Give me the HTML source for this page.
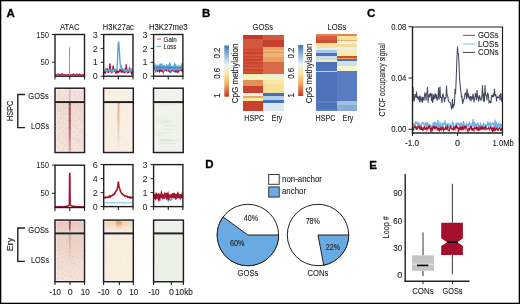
<!DOCTYPE html>
<html><head><meta charset="utf-8"><style>
html,body{margin:0;padding:0;background:#fff;}
svg{display:block;will-change:transform;}
text{font-family:"Liberation Sans", sans-serif;stroke:#231f20;stroke-width:0.12px;}
</style></head><body>
<svg width="520" height="304" viewBox="0 0 520 304">
<rect x="0.65" y="0.65" width="518.7" height="302.7" fill="#fff" stroke="#000" stroke-width="1.3"/>
<text x="6.4" y="16.8" font-size="11.5" font-weight="bold" fill="#000" style="stroke:#000;stroke-width:0.3px">A</text>
<text x="202.0" y="16.8" font-size="11.5" font-weight="bold" fill="#000" style="stroke:#000;stroke-width:0.3px">B</text>
<text x="366.9" y="17.0" font-size="11.5" font-weight="bold" fill="#000" style="stroke:#000;stroke-width:0.3px">C</text>
<text x="205.2" y="167.8" font-size="11.5" font-weight="bold" fill="#000" style="stroke:#000;stroke-width:0.3px">D</text>
<text x="369.3" y="168.7" font-size="11.5" font-weight="bold" fill="#000" style="stroke:#000;stroke-width:0.3px">E</text>
<text x="69.75" y="29.8" font-size="8.6" text-anchor="middle" textLength="19.4" lengthAdjust="spacingAndGlyphs" fill="#231f20">ATAC</text>
<text x="118.35" y="29.8" font-size="8.6" text-anchor="middle" textLength="31.0" lengthAdjust="spacingAndGlyphs" fill="#231f20">H3K27ac</text>
<text x="168.25" y="29.8" font-size="8.6" text-anchor="middle" textLength="38.6" lengthAdjust="spacingAndGlyphs" fill="#231f20">H3K27me3</text>
<clipPath id="c11"><rect x="55.0" y="34.5" width="29.5" height="41.7"/></clipPath>
<path d="M55.00,74.72 L55.49,75.07 L55.98,75.03 L56.48,74.78 L56.97,74.89 L57.46,74.77 L57.95,74.44 L58.44,74.05 L58.93,74.02 L59.42,74.49 L59.92,75.05 L60.41,74.86 L60.90,74.92 L61.39,74.04 L61.88,73.61 L62.38,74.04 L62.87,74.48 L63.36,75.09 L63.85,75.10 L64.34,74.67 L64.83,74.66 L65.33,74.92 L65.82,75.12 L66.31,74.84 L66.80,74.76 L67.29,74.86 L67.78,74.66 L68.28,74.76 L68.77,74.87 L69.26,74.90 L69.75,74.77 L70.24,74.77 L70.73,74.76 L71.22,74.88 L71.72,74.79 L72.21,74.63 L72.70,74.80 L73.19,74.10 L73.68,74.04 L74.17,74.35 L74.67,75.08 L75.16,75.07 L75.65,74.64 L76.14,74.36 L76.63,73.97 L77.12,74.12 L77.62,74.84 L78.11,74.81 L78.60,74.89 L79.09,74.34 L79.58,73.91 L80.08,74.49 L80.57,75.00 L81.06,75.07 L81.55,74.90 L82.04,74.94 L82.53,74.67 L83.03,74.77 L83.52,75.05 L84.01,74.86 L84.50,74.74" stroke="#a8112e" stroke-width="1.1" fill="none" clip-path="url(#c11)"/>
<path d="M55.00,75.87 L55.50,75.87 L56.00,75.33 L56.50,75.35 L57.00,75.80 L57.50,75.74 L58.00,75.70 L58.50,75.48 L59.00,75.66 L59.50,75.66 L60.00,75.65 L60.50,75.40 L61.00,75.56 L61.50,75.54 L62.00,75.73 L62.50,75.90 L63.00,75.87 L63.50,75.63 L64.00,75.57 L64.50,75.46 L65.00,75.32 L65.50,75.32 L66.00,75.58 L66.50,75.49 L67.00,75.53 L67.50,75.84 L68.00,75.62 L68.50,75.64 L69.00,75.44 L69.45,75.20 L69.50,47.40 L69.55,75.20 L70.50,75.38 L71.00,75.61 L71.50,75.90 L72.00,75.70 L72.50,75.41 L73.00,75.84 L73.50,75.78 L74.00,75.74 L74.50,75.84 L75.00,75.76 L75.50,75.77 L76.00,75.51 L76.50,75.89 L77.00,75.88 L77.50,75.40 L78.00,75.75 L78.50,75.73 L79.00,75.58 L79.50,75.62 L80.00,75.59 L80.50,75.85 L81.00,75.60 L81.50,75.80 L82.00,75.51 L82.50,75.83 L83.00,75.84 L83.50,75.58 L84.00,75.64 L84.50,75.85" stroke="#62aae4" stroke-width="1.0" fill="none" clip-path="url(#c11)"/>
<rect x="55.0" y="34.5" width="29.5" height="41.7" fill="none" stroke="#231f20" stroke-width="1.4"/>
<line x1="52.0" y1="34.5" x2="55.0" y2="34.5" stroke="#231f20" stroke-width="1"/>
<text x="49.0" y="37.6" font-size="9" text-anchor="end" textLength="12.8" lengthAdjust="spacingAndGlyphs" fill="#231f20" style="stroke:none">150</text>
<line x1="52.0" y1="62.2" x2="55.0" y2="62.2" stroke="#231f20" stroke-width="1"/>
<text x="49.0" y="65.3" font-size="9" text-anchor="end" textLength="8.6" lengthAdjust="spacingAndGlyphs" fill="#231f20" style="stroke:none">50</text>
<line x1="55.0" y1="76.2" x2="55.0" y2="79.60000000000001" stroke="#231f20" stroke-width="1.1"/>
<line x1="69.75" y1="76.2" x2="69.75" y2="79.60000000000001" stroke="#231f20" stroke-width="1.1"/>
<line x1="84.5" y1="76.2" x2="84.5" y2="79.60000000000001" stroke="#231f20" stroke-width="1.1"/>
<clipPath id="c12"><rect x="103.7" y="34.5" width="29.299999999999997" height="41.7"/></clipPath>
<path d="M103.70,72.56 L104.03,71.45 L104.35,72.08 L104.68,71.24 L105.00,71.16 L105.33,73.17 L105.65,73.17 L105.98,69.22 L106.30,69.50 L106.63,69.33 L106.96,68.31 L107.28,71.42 L107.61,70.37 L107.93,71.70 L108.26,71.11 L108.58,72.87 L108.91,71.06 L109.23,69.55 L109.56,68.01 L109.89,63.49 L110.21,64.60 L110.54,70.77 L110.86,70.29 L111.19,71.26 L111.51,72.33 L111.84,73.30 L112.16,70.23 L112.49,71.06 L112.82,68.13 L113.14,65.45 L113.47,67.18 L113.79,68.89 L114.12,71.83 L114.44,70.52 L114.77,71.81 L115.09,70.04 L115.42,70.24 L115.75,73.07 L116.07,72.93 L116.40,72.64 L116.72,69.93 L117.05,71.84 L117.37,71.16 L117.70,72.33 L118.02,71.59 L118.35,72.03 L118.68,72.15 L119.00,71.31 L119.33,71.31 L119.65,70.15 L119.98,70.96 L120.30,70.06 L120.63,70.32 L120.95,69.84 L121.28,70.99 L121.61,72.83 L121.93,70.31 L122.26,69.93 L122.58,70.15 L122.91,71.36 L123.23,70.84 L123.56,72.66 L123.88,70.41 L124.21,71.35 L124.54,72.39 L124.86,73.19 L125.19,70.23 L125.51,68.90 L125.84,69.40 L126.16,64.31 L126.49,67.46 L126.81,71.49 L127.14,72.18 L127.47,70.63 L127.79,70.27 L128.12,73.26 L128.44,71.17 L128.77,72.93 L129.09,69.39 L129.42,69.52 L129.74,68.05 L130.07,69.12 L130.40,71.48 L130.72,69.80 L131.05,72.30 L131.37,73.14 L131.70,71.25 L132.02,73.31 L132.35,72.71 L132.67,71.95 L133.00,71.21" stroke="#a8112e" stroke-width="1.2" fill="none" clip-path="url(#c12)"/>
<path d="M103.70,70.80 L104.03,71.02 L104.35,70.54 L104.68,70.94 L105.00,71.09 L105.33,70.53 L105.65,69.66 L105.98,69.86 L106.30,69.92 L106.63,70.83 L106.96,70.30 L107.28,70.73 L107.61,70.91 L107.93,71.02 L108.26,70.84 L108.58,69.65 L108.91,69.81 L109.23,69.85 L109.56,69.86 L109.89,70.87 L110.21,70.68 L110.54,70.15 L110.86,69.98 L111.19,69.77 L111.51,69.73 L111.84,71.05 L112.16,70.19 L112.49,70.08 L112.82,70.35 L113.14,70.90 L113.47,70.41 L113.79,71.05 L114.12,69.64 L114.44,69.75 L114.77,70.27 L115.09,70.68 L115.42,69.65 L115.75,70.18 L116.07,69.61 L116.40,69.58 L116.72,69.88 L117.05,68.75 L117.37,63.97 L117.70,55.50 L118.02,46.91 L118.35,42.61 L118.68,41.54 L119.00,44.98 L119.33,49.92 L119.65,55.25 L119.98,61.37 L120.30,64.51 L120.63,66.40 L120.95,67.43 L121.28,66.84 L121.61,68.62 L121.93,68.70 L122.26,69.47 L122.58,69.12 L122.91,70.01 L123.23,70.12 L123.56,69.64 L123.88,70.47 L124.21,70.15 L124.54,69.62 L124.86,70.99 L125.19,71.07 L125.51,70.81 L125.84,69.92 L126.16,70.17 L126.49,70.80 L126.81,70.64 L127.14,70.90 L127.47,70.43 L127.79,71.12 L128.12,70.03 L128.44,69.70 L128.77,69.60 L129.09,69.97 L129.42,69.59 L129.74,71.17 L130.07,70.71 L130.40,69.58 L130.72,69.90 L131.05,70.51 L131.37,69.62 L131.70,70.16 L132.02,69.83 L132.35,70.71 L132.67,70.88 L133.00,70.46" stroke="#5aa5de" stroke-width="1.4" fill="none" clip-path="url(#c12)"/>
<rect x="103.7" y="34.5" width="29.299999999999997" height="41.7" fill="none" stroke="#231f20" stroke-width="1.4"/>
<line x1="100.7" y1="34.5" x2="103.7" y2="34.5" stroke="#231f20" stroke-width="1"/>
<text x="97.7" y="37.6" font-size="9" text-anchor="end" fill="#231f20" style="stroke:none">3</text>
<line x1="100.7" y1="48.4" x2="103.7" y2="48.4" stroke="#231f20" stroke-width="1"/>
<text x="97.7" y="51.5" font-size="9" text-anchor="end" fill="#231f20" style="stroke:none">2</text>
<line x1="100.7" y1="62.3" x2="103.7" y2="62.3" stroke="#231f20" stroke-width="1"/>
<text x="97.7" y="65.39999999999999" font-size="9" text-anchor="end" fill="#231f20" style="stroke:none">1</text>
<line x1="100.7" y1="76.2" x2="103.7" y2="76.2" stroke="#231f20" stroke-width="1"/>
<text x="97.7" y="79.3" font-size="9" text-anchor="end" fill="#231f20" style="stroke:none">0</text>
<line x1="103.7" y1="76.2" x2="103.7" y2="79.60000000000001" stroke="#231f20" stroke-width="1.1"/>
<line x1="118.35" y1="76.2" x2="118.35" y2="79.60000000000001" stroke="#231f20" stroke-width="1.1"/>
<line x1="133.0" y1="76.2" x2="133.0" y2="79.60000000000001" stroke="#231f20" stroke-width="1.1"/>
<clipPath id="c13"><rect x="153.6" y="34.5" width="29.30000000000001" height="41.7"/></clipPath>
<path d="M153.60,68.78 L153.97,68.05 L154.33,67.72 L154.70,66.82 L155.06,68.06 L155.43,66.95 L155.80,72.41 L156.16,69.74 L156.53,66.82 L156.90,68.62 L157.26,67.08 L157.63,71.89 L158.00,69.72 L158.36,71.08 L158.73,69.26 L159.09,69.08 L159.46,72.51 L159.83,71.26 L160.19,70.88 L160.56,66.98 L160.93,67.90 L161.29,71.61 L161.66,67.71 L162.02,71.74 L162.39,68.81 L162.76,71.81 L163.12,72.58 L163.49,67.26 L163.85,71.30 L164.22,71.27 L164.59,66.58 L164.95,67.25 L165.32,70.82 L165.69,66.71 L166.05,69.29 L166.42,68.44 L166.78,71.33 L167.15,66.83 L167.52,68.36 L167.88,66.67 L168.25,67.12 L168.62,70.76 L168.98,70.38 L169.35,71.57 L169.72,71.69 L170.08,72.19 L170.45,70.74 L170.81,68.90 L171.18,72.57 L171.55,68.44 L171.91,70.52 L172.28,70.69 L172.65,67.58 L173.01,69.65 L173.38,70.65 L173.74,69.64 L174.11,68.28 L174.48,72.24 L174.84,66.62 L175.21,72.45 L175.57,68.00 L175.94,67.42 L176.31,72.48 L176.67,67.77 L177.04,70.35 L177.41,69.05 L177.77,72.53 L178.14,72.30 L178.50,71.48 L178.87,66.74 L179.24,71.38 L179.60,67.96 L179.97,66.90 L180.34,66.82 L180.70,70.48 L181.07,70.42 L181.44,69.38 L181.80,67.84 L182.17,71.93 L182.53,68.01 L182.90,67.71" stroke="#a8112e" stroke-width="1.1" fill="none" clip-path="url(#c13)"/>
<path d="M153.60,66.56 L153.97,66.43 L154.33,67.93 L154.70,68.92 L155.06,70.08 L155.43,67.14 L155.80,67.99 L156.16,66.70 L156.53,68.42 L156.90,66.66 L157.26,68.87 L157.63,66.52 L158.00,66.84 L158.36,68.24 L158.73,67.69 L159.09,67.05 L159.46,69.23 L159.83,67.62 L160.19,66.50 L160.56,68.90 L160.93,66.51 L161.29,67.03 L161.66,66.33 L162.02,68.59 L162.39,69.67 L162.76,66.52 L163.12,66.50 L163.49,68.10 L163.85,69.67 L164.22,69.21 L164.59,67.26 L164.95,68.79 L165.32,65.85 L165.69,67.47 L166.05,69.19 L166.42,67.17 L166.78,68.48 L167.15,65.94 L167.52,66.04 L167.88,67.79 L168.25,67.22 L168.62,66.98 L168.98,66.50 L169.35,65.74 L169.72,69.96 L170.08,68.48 L170.45,67.41 L170.81,68.73 L171.18,67.46 L171.55,69.69 L171.91,66.17 L172.28,67.75 L172.65,69.56 L173.01,67.14 L173.38,68.69 L173.74,69.21 L174.11,67.93 L174.48,69.47 L174.84,69.15 L175.21,66.23 L175.57,66.98 L175.94,70.03 L176.31,66.62 L176.67,70.01 L177.04,68.60 L177.41,66.06 L177.77,67.33 L178.14,68.72 L178.50,68.41 L178.87,68.35 L179.24,69.52 L179.60,65.64 L179.97,69.84 L180.34,68.20 L180.70,66.76 L181.07,68.31 L181.44,65.72 L181.80,68.99 L182.17,65.73 L182.53,66.12 L182.90,67.10" stroke="#5aa5de" stroke-width="2.6" fill="none" clip-path="url(#c13)"/>
<path d="M153.60,67.81 L153.97,67.61 L154.33,67.72 L154.70,67.67 L155.06,67.73 L155.43,67.32 L155.80,67.98 L156.16,67.36 L156.53,68.40 L156.90,67.91 L157.26,67.86 L157.63,68.18 L158.00,67.18 L158.36,67.90 L158.73,67.10 L159.09,66.82 L159.46,67.99 L159.83,66.93 L160.19,67.07 L160.56,67.30 L160.93,68.37 L161.29,67.65 L161.66,67.37 L162.02,67.92 L162.39,68.04 L162.76,67.90 L163.12,67.99 L163.49,67.10 L163.85,67.84 L164.22,67.71 L164.59,67.34 L164.95,66.83 L165.32,67.93 L165.69,68.34 L166.05,66.79 L166.42,67.03 L166.78,67.10 L167.15,67.54 L167.52,68.02 L167.88,68.16 L168.25,67.91 L168.62,67.65 L168.98,68.31 L169.35,67.25 L169.72,67.20 L170.08,68.39 L170.45,67.01 L170.81,67.60 L171.18,66.88 L171.55,67.62 L171.91,67.09 L172.28,67.66 L172.65,67.39 L173.01,67.58 L173.38,68.38 L173.74,68.18 L174.11,68.03 L174.48,67.74 L174.84,67.80 L175.21,67.52 L175.57,67.32 L175.94,67.75 L176.31,67.88 L176.67,67.56 L177.04,66.83 L177.41,67.11 L177.77,67.32 L178.14,67.05 L178.50,68.04 L178.87,68.25 L179.24,68.26 L179.60,68.21 L179.97,68.40 L180.34,67.37 L180.70,66.88 L181.07,68.23 L181.44,67.27 L181.80,66.85 L182.17,67.14 L182.53,68.16 L182.90,67.35" stroke="#a8112e" stroke-width="0.6" fill="none" clip-path="url(#c13)" opacity="0.45"/>
<rect x="153.6" y="34.5" width="29.30000000000001" height="41.7" fill="none" stroke="#231f20" stroke-width="1.4"/>
<line x1="150.6" y1="34.5" x2="153.6" y2="34.5" stroke="#231f20" stroke-width="1"/>
<text x="147.6" y="37.6" font-size="9" text-anchor="end" fill="#231f20" style="stroke:none">3</text>
<line x1="150.6" y1="48.4" x2="153.6" y2="48.4" stroke="#231f20" stroke-width="1"/>
<text x="147.6" y="51.5" font-size="9" text-anchor="end" fill="#231f20" style="stroke:none">2</text>
<line x1="150.6" y1="62.3" x2="153.6" y2="62.3" stroke="#231f20" stroke-width="1"/>
<text x="147.6" y="65.39999999999999" font-size="9" text-anchor="end" fill="#231f20" style="stroke:none">1</text>
<line x1="150.6" y1="76.2" x2="153.6" y2="76.2" stroke="#231f20" stroke-width="1"/>
<text x="147.6" y="79.3" font-size="9" text-anchor="end" fill="#231f20" style="stroke:none">0</text>
<line x1="153.6" y1="76.2" x2="153.6" y2="79.60000000000001" stroke="#231f20" stroke-width="1.1"/>
<line x1="168.25" y1="76.2" x2="168.25" y2="79.60000000000001" stroke="#231f20" stroke-width="1.1"/>
<line x1="182.9" y1="76.2" x2="182.9" y2="79.60000000000001" stroke="#231f20" stroke-width="1.1"/>
<line x1="156.8" y1="39" x2="161" y2="39" stroke="#c0304a" stroke-width="0.9"/>
<line x1="156.8" y1="46.3" x2="161" y2="46.3" stroke="#4a78c0" stroke-width="0.9"/>
<text x="163.6" y="41.7" font-size="7.4" textLength="13.2" lengthAdjust="spacingAndGlyphs" fill="#231f20">Gain</text>
<text x="163.6" y="49.0" font-size="7.4" textLength="12.6" lengthAdjust="spacingAndGlyphs" fill="#231f20">Loss</text>
<clipPath id="c21"><rect x="55.0" y="165.2" width="29.5" height="42.30000000000001"/></clipPath>
<path d="M55.00,206.94 L55.50,206.52 L56.00,206.99 L56.50,206.66 L57.00,207.00 L57.50,206.91 L58.00,206.48 L58.50,206.92 L59.00,206.67 L59.50,206.76 L60.00,206.76 L60.50,206.72 L61.00,206.88 L61.50,206.50 L62.00,206.90 L62.50,206.79 L63.00,206.89 L63.50,206.72 L64.00,206.60 L64.50,206.27 L65.00,206.52 L65.50,206.60 L66.00,206.45 L66.50,205.95 L67.00,206.36 L67.50,205.93 L68.00,205.92 L68.50,205.59 L69.00,205.57 L69.20,204.68 L69.50,173.40 L70.00,173.40 L70.30,204.68 L70.50,205.39 L71.00,205.45 L71.50,205.80 L72.00,206.20 L72.50,206.36 L73.00,205.97 L73.50,206.32 L74.00,206.56 L74.50,206.20 L75.00,206.46 L75.50,206.42 L76.00,206.37 L76.50,206.74 L77.00,206.72 L77.50,206.45 L78.00,206.89 L78.50,206.55 L79.00,206.94 L79.50,206.62 L80.00,206.63 L80.50,206.49 L81.00,206.56 L81.50,206.76 L82.00,206.94 L82.50,206.97 L83.00,206.76 L83.50,206.77 L84.00,207.02 L84.50,206.56" stroke="#a8112e" stroke-width="1.3" fill="none" clip-path="url(#c21)"/>
<rect x="55.0" y="165.2" width="29.5" height="42.30000000000001" fill="none" stroke="#231f20" stroke-width="1.4"/>
<line x1="52.0" y1="165.2" x2="55.0" y2="165.2" stroke="#231f20" stroke-width="1"/>
<text x="49.0" y="168.29999999999998" font-size="9" text-anchor="end" textLength="12.8" lengthAdjust="spacingAndGlyphs" fill="#231f20" style="stroke:none">150</text>
<line x1="52.0" y1="193.3" x2="55.0" y2="193.3" stroke="#231f20" stroke-width="1"/>
<text x="49.0" y="196.4" font-size="9" text-anchor="end" textLength="8.6" lengthAdjust="spacingAndGlyphs" fill="#231f20" style="stroke:none">50</text>
<line x1="55.0" y1="207.5" x2="55.0" y2="210.9" stroke="#231f20" stroke-width="1.1"/>
<line x1="69.75" y1="207.5" x2="69.75" y2="210.9" stroke="#231f20" stroke-width="1.1"/>
<line x1="84.5" y1="207.5" x2="84.5" y2="210.9" stroke="#231f20" stroke-width="1.1"/>
<clipPath id="c22"><rect x="103.7" y="164.6" width="29.299999999999997" height="42.0"/></clipPath>
<path d="M103.70,202.78 L104.19,202.86 L104.68,203.05 L105.17,202.44 L105.65,203.16 L106.14,202.75 L106.63,202.42 L107.12,203.10 L107.61,202.70 L108.09,202.65 L108.58,203.14 L109.07,202.85 L109.56,202.58 L110.05,202.79 L110.54,202.56 L111.03,203.04 L111.51,202.97 L112.00,203.08 L112.49,202.74 L112.98,202.39 L113.47,202.67 L113.95,202.52 L114.44,202.85 L114.93,202.54 L115.42,203.08 L115.91,202.93 L116.40,202.60 L116.89,202.56 L117.37,202.82 L117.86,203.10 L118.35,202.95 L118.84,202.99 L119.33,202.93 L119.81,202.49 L120.30,203.00 L120.79,202.43 L121.28,202.43 L121.77,203.12 L122.26,202.85 L122.75,202.76 L123.23,203.15 L123.72,202.81 L124.21,202.41 L124.70,203.08 L125.19,202.67 L125.67,203.07 L126.16,202.68 L126.65,202.42 L127.14,203.00 L127.63,203.16 L128.12,203.10 L128.60,202.72 L129.09,203.16 L129.58,203.10 L130.07,202.75 L130.56,202.40 L131.05,202.82 L131.53,202.84 L132.02,202.63 L132.51,203.09 L133.00,202.68" stroke="#5aa5de" stroke-width="0.9" fill="none" clip-path="url(#c22)"/>
<path d="M103.70,197.63 L104.19,197.76 L104.68,197.55 L105.17,197.92 L105.65,197.18 L106.14,197.11 L106.63,197.22 L107.12,197.68 L107.61,197.18 L108.09,197.28 L108.58,197.24 L109.07,196.30 L109.56,196.09 L110.05,196.98 L110.54,195.87 L111.03,195.95 L111.51,195.96 L112.00,195.82 L112.49,195.10 L112.98,195.03 L113.47,194.43 L113.95,194.06 L114.44,194.19 L114.93,192.94 L115.42,192.04 L115.91,191.23 L116.40,190.59 L116.89,189.87 L117.37,188.15 L117.86,185.65 L118.35,181.61 L118.84,185.47 L119.33,187.74 L119.81,188.92 L120.30,190.92 L120.79,191.70 L121.28,192.65 L121.77,193.72 L122.26,193.69 L122.75,193.85 L123.23,195.02 L123.72,195.29 L124.21,195.39 L124.70,196.09 L125.19,195.83 L125.67,195.71 L126.16,196.10 L126.65,196.43 L127.14,196.25 L127.63,197.20 L128.12,196.88 L128.60,197.23 L129.09,197.09 L129.58,197.74 L130.07,197.08 L130.56,197.92 L131.05,197.91 L131.53,197.25 L132.02,197.14 L132.51,197.76 L133.00,197.81" stroke="#a8112e" stroke-width="1.6" fill="none" clip-path="url(#c22)"/>
<rect x="103.7" y="164.6" width="29.299999999999997" height="42.0" fill="none" stroke="#231f20" stroke-width="1.4"/>
<line x1="100.7" y1="164.6" x2="103.7" y2="164.6" stroke="#231f20" stroke-width="1"/>
<text x="97.7" y="167.7" font-size="9" text-anchor="end" fill="#231f20" style="stroke:none">6</text>
<line x1="100.7" y1="178.6" x2="103.7" y2="178.6" stroke="#231f20" stroke-width="1"/>
<text x="97.7" y="181.7" font-size="9" text-anchor="end" fill="#231f20" style="stroke:none">4</text>
<line x1="100.7" y1="192.6" x2="103.7" y2="192.6" stroke="#231f20" stroke-width="1"/>
<text x="97.7" y="195.7" font-size="9" text-anchor="end" fill="#231f20" style="stroke:none">2</text>
<line x1="100.7" y1="206.6" x2="103.7" y2="206.6" stroke="#231f20" stroke-width="1"/>
<text x="97.7" y="209.7" font-size="9" text-anchor="end" fill="#231f20" style="stroke:none">0</text>
<line x1="103.7" y1="206.6" x2="103.7" y2="210.0" stroke="#231f20" stroke-width="1.1"/>
<line x1="118.35" y1="206.6" x2="118.35" y2="210.0" stroke="#231f20" stroke-width="1.1"/>
<line x1="133.0" y1="206.6" x2="133.0" y2="210.0" stroke="#231f20" stroke-width="1.1"/>
<clipPath id="c23"><rect x="153.6" y="164.6" width="29.30000000000001" height="42.0"/></clipPath>
<path d="M153.60,196.35 L154.02,196.11 L154.44,195.29 L154.86,196.32 L155.27,196.22 L155.69,196.04 L156.11,196.95 L156.53,196.21 L156.95,195.95 L157.37,195.58 L157.79,197.15 L158.20,196.68 L158.62,197.16 L159.04,195.55 L159.46,195.81 L159.88,197.27 L160.30,195.16 L160.72,195.20 L161.13,195.90 L161.55,195.99 L161.97,197.02 L162.39,197.35 L162.81,196.22 L163.23,197.30 L163.65,197.07 L164.06,197.04 L164.48,197.65 L164.90,196.87 L165.32,197.18 L165.74,196.61 L166.16,197.74 L166.58,197.94 L166.99,198.76 L167.41,198.91 L167.83,199.83 L168.25,200.61 L168.67,199.24 L169.09,199.33 L169.51,199.59 L169.92,199.65 L170.34,200.15 L170.76,199.88 L171.18,199.23 L171.60,199.22 L172.02,197.19 L172.44,197.60 L172.85,196.27 L173.27,197.04 L173.69,195.57 L174.11,195.68 L174.53,197.49 L174.95,196.97 L175.37,195.36 L175.78,196.33 L176.20,195.18 L176.62,196.48 L177.04,197.20 L177.46,195.95 L177.88,195.62 L178.30,196.76 L178.71,197.16 L179.13,196.62 L179.55,195.20 L179.97,195.66 L180.39,197.10 L180.81,196.81 L181.23,197.13 L181.64,197.23 L182.06,195.57 L182.48,196.96 L182.90,196.11" stroke="#5aa5de" stroke-width="1.5" fill="none" clip-path="url(#c23)"/>
<path d="M153.60,196.05 L154.02,195.39 L154.44,195.35 L154.86,197.26 L155.27,197.74 L155.69,196.42 L156.11,196.78 L156.53,194.83 L156.95,195.27 L157.37,195.59 L157.79,195.75 L158.20,195.37 L158.62,197.25 L159.04,196.18 L159.46,197.19 L159.88,194.48 L160.30,197.57 L160.72,194.80 L161.13,197.51 L161.55,195.28 L161.97,196.55 L162.39,196.31 L162.81,194.71 L163.23,197.71 L163.65,197.56 L164.06,194.45 L164.48,195.93 L164.90,197.45 L165.32,194.19 L165.74,194.33 L166.16,197.37 L166.58,196.24 L166.99,197.29 L167.41,196.64 L167.83,195.52 L168.25,197.18 L168.67,195.24 L169.09,197.59 L169.51,197.16 L169.92,194.81 L170.34,196.32 L170.76,196.26 L171.18,195.61 L171.60,196.04 L172.02,196.38 L172.44,197.67 L172.85,195.14 L173.27,194.26 L173.69,194.23 L174.11,195.36 L174.53,196.48 L174.95,196.46 L175.37,195.27 L175.78,195.33 L176.20,197.37 L176.62,196.92 L177.04,196.46 L177.46,195.92 L177.88,194.83 L178.30,195.96 L178.71,197.68 L179.13,194.79 L179.55,196.21 L179.97,195.89 L180.39,196.97 L180.81,196.22 L181.23,196.37 L181.64,194.97 L182.06,197.41 L182.48,195.78 L182.90,197.13" stroke="#a8112e" stroke-width="2.8" fill="none" clip-path="url(#c23)"/>
<rect x="153.6" y="164.6" width="29.30000000000001" height="42.0" fill="none" stroke="#231f20" stroke-width="1.4"/>
<line x1="150.6" y1="164.6" x2="153.6" y2="164.6" stroke="#231f20" stroke-width="1"/>
<text x="147.6" y="167.7" font-size="9" text-anchor="end" fill="#231f20" style="stroke:none">3</text>
<line x1="150.6" y1="178.6" x2="153.6" y2="178.6" stroke="#231f20" stroke-width="1"/>
<text x="147.6" y="181.7" font-size="9" text-anchor="end" fill="#231f20" style="stroke:none">2</text>
<line x1="150.6" y1="192.6" x2="153.6" y2="192.6" stroke="#231f20" stroke-width="1"/>
<text x="147.6" y="195.7" font-size="9" text-anchor="end" fill="#231f20" style="stroke:none">1</text>
<line x1="150.6" y1="206.6" x2="153.6" y2="206.6" stroke="#231f20" stroke-width="1"/>
<text x="147.6" y="209.7" font-size="9" text-anchor="end" fill="#231f20" style="stroke:none">0</text>
<line x1="153.6" y1="206.6" x2="153.6" y2="210.0" stroke="#231f20" stroke-width="1.1"/>
<line x1="168.25" y1="206.6" x2="168.25" y2="210.0" stroke="#231f20" stroke-width="1.1"/>
<line x1="182.9" y1="206.6" x2="182.9" y2="210.0" stroke="#231f20" stroke-width="1.1"/>
<filter id="speck" x="0" y="0" width="1" height="1"><feTurbulence type="fractalNoise" baseFrequency="0.9" numOctaves="1" seed="3"/><feColorMatrix type="matrix" values="0 0 0 0 1  0 0 0 0 1  0 0 0 0 1  0 0 0 -2.2 1.25"/><feComposite in2="SourceGraphic" operator="in"/></filter>
<filter id="dsA" x="0" y="0" width="1" height="1"><feTurbulence type="fractalNoise" baseFrequency="0.6" numOctaves="2" seed="11"/><feColorMatrix type="matrix" values="0 0 0 0 0.78  0 0 0 0 0.52  0 0 0 0 0.48  0 0 0 3.0 -1.35"/><feComposite in2="SourceGraphic" operator="in"/></filter>
<filter id="dsK" x="0" y="0" width="1" height="1"><feTurbulence type="fractalNoise" baseFrequency="0.6" numOctaves="2" seed="12"/><feColorMatrix type="matrix" values="0 0 0 0 0.88  0 0 0 0 0.7  0 0 0 0 0.55  0 0 0 3.0 -1.35"/><feComposite in2="SourceGraphic" operator="in"/></filter>
<filter id="dsM" x="0" y="0" width="1" height="1"><feTurbulence type="fractalNoise" baseFrequency="0.6" numOctaves="2" seed="13"/><feColorMatrix type="matrix" values="0 0 0 0 0.74  0 0 0 0 0.82  0 0 0 0 0.7  0 0 0 3.0 -1.35"/><feComposite in2="SourceGraphic" operator="in"/></filter>
<linearGradient id="hA1" x1="0" y1="0" x2="0" y2="1"><stop offset="0" stop-color="#eed9d1"/><stop offset="1" stop-color="#f3e4de"/></linearGradient>
<linearGradient id="hAc" x1="0" y1="0" x2="0" y2="1"><stop offset="0" stop-color="#8e3838"/><stop offset="0.5" stop-color="#a45252"/><stop offset="1" stop-color="#cfa4a4"/></linearGradient>
<rect x="56.3" y="89.5" width="26.9" height="11.299999999999992" fill="#f2e1db"/>
<rect x="56.3" y="103.39999999999999" width="26.9" height="47.800000000000004" fill="url(#hA1)"/>
<rect x="69.1" y="89.5" width="1.3" height="11.5" fill="#dab0aa"/>
<rect x="68.8" y="103" width="1.9" height="48.5" fill="url(#hAc)"/>
<rect x="56.3" y="89.5" width="26.9" height="61.699999999999996" fill="#fff" filter="url(#dsA)" opacity="0.6"/>
<rect x="69.1" y="89.5" width="1.3" height="11.5" fill="#dab0aa" opacity="0.5"/>
<rect x="68.8" y="103" width="1.9" height="48.5" fill="url(#hAc)" opacity="0.5"/>
<rect x="56.3" y="89.5" width="26.9" height="61.699999999999996" fill="#fff" filter="url(#speck)" opacity="0.4"/>
<rect x="55.0" y="88.2" width="29.5" height="64.3" fill="none" stroke="#231f20" stroke-width="1.5"/>
<line x1="55.0" y1="102.1" x2="84.5" y2="102.1" stroke="#231f20" stroke-width="2.0"/>
<linearGradient id="hK1" x1="0" y1="0" x2="0" y2="1"><stop offset="0" stop-color="#d8a27e"/><stop offset="0.5" stop-color="#e8c8ac"/><stop offset="1" stop-color="#f9f0e4"/></linearGradient>
<rect x="104.89999999999999" y="89.5" width="27.100000000000016" height="11.299999999999992" fill="#f9f1e6"/>
<rect x="104.89999999999999" y="103.39999999999999" width="27.100000000000016" height="47.800000000000004" fill="#f9efe3"/>
<rect x="117.55" y="103" width="1.8" height="47" fill="url(#hK1)"/>
<rect x="104.89999999999999" y="89.5" width="27.100000000000016" height="61.699999999999996" fill="#fff" filter="url(#dsK)" opacity="0.45"/>
<rect x="117.55" y="103" width="1.8" height="47" fill="url(#hK1)" opacity="0.5"/>
<rect x="104.89999999999999" y="89.5" width="27.100000000000016" height="61.699999999999996" fill="#fff" filter="url(#speck)" opacity="0.4"/>
<rect x="103.6" y="88.2" width="29.700000000000017" height="64.3" fill="none" stroke="#231f20" stroke-width="1.5"/>
<line x1="103.6" y1="102.1" x2="133.3" y2="102.1" stroke="#231f20" stroke-width="2.0"/>
<rect x="154.8" y="89.5" width="27.099999999999987" height="11.299999999999992" fill="#f0f3eb"/>
<rect x="154.8" y="103.39999999999999" width="27.099999999999987" height="47.800000000000004" fill="#eff2e9"/>
<rect x="157.0" y="122.6" width="9.8" height="0.8" fill="#c8d8c0" opacity="0.34"/><rect x="157.5" y="139.0" width="11.8" height="0.8" fill="#c8d8c0" opacity="0.49"/><rect x="164.4" y="128.8" width="12.9" height="0.8" fill="#c8d8c0" opacity="0.40"/><rect x="157.2" y="132.2" width="17.0" height="0.8" fill="#c8d8c0" opacity="0.38"/><rect x="161.8" y="121.9" width="9.5" height="0.8" fill="#c8d8c0" opacity="0.48"/><rect x="158.4" y="143.1" width="17.5" height="0.8" fill="#c8d8c0" opacity="0.44"/><rect x="159.7" y="139.6" width="12.0" height="0.8" fill="#c8d8c0" opacity="0.34"/><rect x="157.0" y="104.4" width="17.9" height="0.8" fill="#c8d8c0" opacity="0.44"/><rect x="164.0" y="125.3" width="14.1" height="0.8" fill="#c8d8c0" opacity="0.59"/><rect x="157.2" y="120.4" width="17.2" height="0.8" fill="#c8d8c0" opacity="0.31"/><rect x="161.0" y="140.4" width="17.8" height="0.8" fill="#c8d8c0" opacity="0.58"/><rect x="155.4" y="134.4" width="8.2" height="0.8" fill="#c8d8c0" opacity="0.42"/><rect x="155.8" y="141.7" width="12.3" height="0.8" fill="#c8d8c0" opacity="0.28"/><rect x="155.1" y="118.3" width="11.3" height="0.8" fill="#c8d8c0" opacity="0.43"/>
<rect x="154.8" y="89.5" width="27.099999999999987" height="61.699999999999996" fill="#fff" filter="url(#dsM)" opacity="0.25"/>
<rect x="154.8" y="89.5" width="27.099999999999987" height="61.699999999999996" fill="#fff" filter="url(#speck)" opacity="0.4"/>
<rect x="153.5" y="88.2" width="29.69999999999999" height="64.3" fill="none" stroke="#231f20" stroke-width="1.5"/>
<line x1="153.5" y1="102.1" x2="183.2" y2="102.1" stroke="#231f20" stroke-width="2.0"/>
<linearGradient id="eAc" x1="0" y1="0" x2="0" y2="1"><stop offset="0" stop-color="#7a1e1e"/><stop offset="0.6" stop-color="#a04848"/><stop offset="1" stop-color="#d0a0a0"/></linearGradient>
<linearGradient id="eA2" x1="0" y1="0" x2="0" y2="1"><stop offset="0" stop-color="#ebcdc0"/><stop offset="1" stop-color="#f4e3da"/></linearGradient>
<linearGradient id="eA1" x1="0" y1="0" x2="0" y2="1"><stop offset="0" stop-color="#e6c0b2"/><stop offset="1" stop-color="#eed3c6"/></linearGradient>
<linearGradient id="eAc2" x1="0" y1="0" x2="0" y2="1"><stop offset="0" stop-color="#c89890"/><stop offset="1" stop-color="#eed8d0"/></linearGradient>
<rect x="56.3" y="221.4" width="26.9" height="10.700000000000012" fill="url(#eA1)"/>
<rect x="56.3" y="234.70000000000002" width="26.9" height="45.69999999999998" fill="url(#eA2)"/>
<rect x="68.95" y="221.3" width="1.6" height="10.699999999999989" fill="url(#eAc)"/>
<rect x="69.05" y="234.5" width="1.4" height="27.5" fill="url(#eAc2)"/>
<rect x="56.3" y="221.4" width="26.9" height="58.99999999999999" fill="#fff" filter="url(#dsA)" opacity="0.6"/>
<rect x="68.95" y="221.3" width="1.6" height="10.699999999999989" fill="url(#eAc)" opacity="0.5"/>
<rect x="69.05" y="234.5" width="1.4" height="27.5" fill="url(#eAc2)" opacity="0.5"/>
<rect x="56.3" y="221.4" width="26.9" height="58.99999999999999" fill="#fff" filter="url(#speck)" opacity="0.4"/>
<rect x="55.0" y="220.1" width="29.5" height="61.599999999999994" fill="none" stroke="#231f20" stroke-width="1.5"/>
<line x1="55.0" y1="233.4" x2="84.5" y2="233.4" stroke="#231f20" stroke-width="2.0"/>
<line x1="55.0" y1="281.7" x2="55.0" y2="284.9" stroke="#231f20" stroke-width="1.1"/>
<line x1="70.1" y1="281.7" x2="70.1" y2="284.9" stroke="#231f20" stroke-width="1.1"/>
<line x1="84.5" y1="281.7" x2="84.5" y2="284.9" stroke="#231f20" stroke-width="1.1"/>
<radialGradient id="eKb" cx="0.5" cy="0.0" r="1"><stop offset="0" stop-color="#d47c3c" stop-opacity="0.95"/><stop offset="0.45" stop-color="#e09a62" stop-opacity="0.6"/><stop offset="1" stop-color="#f0c8a0" stop-opacity="0"/></radialGradient>
<linearGradient id="eK1" x1="0" y1="0" x2="0" y2="1"><stop offset="0" stop-color="#f0cca8"/><stop offset="0.6" stop-color="#f6e2cc"/><stop offset="1" stop-color="#faefe2"/></linearGradient>
<rect x="104.89999999999999" y="221.4" width="27.100000000000016" height="10.700000000000012" fill="url(#eK1)"/>
<rect x="104.89999999999999" y="234.70000000000002" width="27.100000000000016" height="45.69999999999998" fill="#f9eedd"/>
<rect x="115.3" y="221.2" width="7" height="9.5" fill="url(#eKb)"/>
<rect x="104.89999999999999" y="221.4" width="27.100000000000016" height="58.99999999999999" fill="#fff" filter="url(#dsK)" opacity="0.45"/>
<rect x="104.89999999999999" y="221.4" width="27.100000000000016" height="58.99999999999999" fill="#fff" filter="url(#speck)" opacity="0.4"/>
<rect x="103.6" y="220.1" width="29.700000000000017" height="61.599999999999994" fill="none" stroke="#231f20" stroke-width="1.5"/>
<line x1="103.6" y1="233.4" x2="133.3" y2="233.4" stroke="#231f20" stroke-width="2.0"/>
<line x1="103.6" y1="281.7" x2="103.6" y2="284.9" stroke="#231f20" stroke-width="1.1"/>
<line x1="119.4" y1="281.7" x2="119.4" y2="284.9" stroke="#231f20" stroke-width="1.1"/>
<line x1="133.3" y1="281.7" x2="133.3" y2="284.9" stroke="#231f20" stroke-width="1.1"/>
<rect x="154.9" y="221.4" width="27.20000000000001" height="10.700000000000012" fill="#ecf0e5"/>
<rect x="154.9" y="234.70000000000002" width="27.20000000000001" height="45.69999999999998" fill="#ebf0e4"/>
<rect x="154.9" y="221.4" width="27.20000000000001" height="58.99999999999999" fill="#fff" filter="url(#dsM)" opacity="0.25"/>
<rect x="154.9" y="221.4" width="27.20000000000001" height="58.99999999999999" fill="#fff" filter="url(#speck)" opacity="0.4"/>
<rect x="153.6" y="220.1" width="29.80000000000001" height="61.599999999999994" fill="none" stroke="#231f20" stroke-width="1.5"/>
<line x1="153.6" y1="233.4" x2="183.4" y2="233.4" stroke="#231f20" stroke-width="2.0"/>
<line x1="153.6" y1="281.7" x2="153.6" y2="284.9" stroke="#231f20" stroke-width="1.1"/>
<line x1="171.4" y1="281.7" x2="171.4" y2="284.9" stroke="#231f20" stroke-width="1.1"/>
<line x1="183.4" y1="281.7" x2="183.4" y2="284.9" stroke="#231f20" stroke-width="1.1"/>
<text x="55.25" y="294.9" font-size="8.8" text-anchor="middle" textLength="11.5" lengthAdjust="spacingAndGlyphs" fill="#231f20">-10</text>
<text x="70.3" y="294.9" font-size="8.8" text-anchor="middle" fill="#231f20">0</text>
<text x="85.3" y="294.9" font-size="8.8" text-anchor="middle" textLength="9" lengthAdjust="spacingAndGlyphs" fill="#231f20">10</text>
<text x="103.8" y="294.9" font-size="8.8" text-anchor="middle" textLength="11.5" lengthAdjust="spacingAndGlyphs" fill="#231f20">-10</text>
<text x="119.5" y="294.9" font-size="8.8" text-anchor="middle" fill="#231f20">0</text>
<text x="133.8" y="294.9" font-size="8.8" text-anchor="middle" textLength="9" lengthAdjust="spacingAndGlyphs" fill="#231f20">10</text>
<text x="153.8" y="294.9" font-size="8.8" text-anchor="middle" textLength="11.5" lengthAdjust="spacingAndGlyphs" fill="#231f20">-10</text>
<text x="171.4" y="294.9" font-size="8.8" text-anchor="middle" fill="#231f20">0</text>
<text x="175.0" y="294.9" font-size="8.8" textLength="17.8" lengthAdjust="spacingAndGlyphs" fill="#231f20">10kb</text>
<path d="M25,94.5 L17.8,94.5 L17.8,127.6 L25,127.6" stroke="#231f20" stroke-width="1.4" fill="none"/>
<path d="M25,228 L17.8,228 L17.8,261.4 L25,261.4" stroke="#231f20" stroke-width="1.4" fill="none"/>
<text x="28.3" y="98.8" font-size="9" textLength="20.5" lengthAdjust="spacingAndGlyphs" fill="#231f20">GOSs</text>
<text x="31" y="129.1" font-size="9" textLength="18" lengthAdjust="spacingAndGlyphs" fill="#231f20">LOSs</text>
<text x="28.3" y="232.5" font-size="9" textLength="20.5" lengthAdjust="spacingAndGlyphs" fill="#231f20">GOSs</text>
<text x="31" y="262.9" font-size="9" textLength="18" lengthAdjust="spacingAndGlyphs" fill="#231f20">LOSs</text>
<text x="13.3" y="110.8" font-size="8.8" text-anchor="middle" textLength="20.2" lengthAdjust="spacingAndGlyphs" transform="rotate(-90 13.3 110.8)" fill="#231f20">HSPC</text>
<text x="13.3" y="244.5" font-size="8.8" text-anchor="middle" textLength="13.5" lengthAdjust="spacingAndGlyphs" transform="rotate(-90 13.3 244.5)" fill="#231f20">Ery</text>
<linearGradient id="cb1" x1="0" y1="0" x2="0" y2="1">
<stop offset="0" stop-color="#4a6fb5"/><stop offset="0.22" stop-color="#9cc1e0"/>
<stop offset="0.38" stop-color="#eef3ec"/><stop offset="0.55" stop-color="#f8e9a2"/>
<stop offset="0.75" stop-color="#f0ad62"/><stop offset="1" stop-color="#c73828"/></linearGradient>
<rect x="224.3" y="45.5" width="4.699999999999989" height="51.2" fill="url(#cb1)"/>
<text x="219.8" y="53" font-size="9" text-anchor="middle" textLength="11" lengthAdjust="spacingAndGlyphs" transform="rotate(-90 219.8 53)" fill="#231f20">0.2</text>
<text x="219.8" y="73.3" font-size="9" text-anchor="middle" textLength="11" lengthAdjust="spacingAndGlyphs" transform="rotate(-90 219.8 73.3)" fill="#231f20">0.6</text>
<text x="219.8" y="95.5" font-size="9" text-anchor="middle" transform="rotate(-90 219.8 95.5)" fill="#231f20">1</text>
<text x="238.2" y="73.4" font-size="9" text-anchor="middle" textLength="59.8" lengthAdjust="spacingAndGlyphs" transform="rotate(-90 238.2 73.4)" fill="#231f20">CpG methylation</text>
<text x="262.8" y="29.7" font-size="9" text-anchor="middle" textLength="20.5" lengthAdjust="spacingAndGlyphs" fill="#231f20">GOSs</text>
<g shape-rendering="crispEdges">
<rect x="242.8" y="34.8" width="20.79999999999999" height="4.8000000000000025" fill="#c4392b"/>
<rect x="242.8" y="39" width="20.79999999999999" height="8.6" fill="#d25a3e"/>
<rect x="242.8" y="47.0" width="20.79999999999999" height="2.300000000000003" fill="#d25639"/>
<rect x="242.8" y="48.7" width="20.79999999999999" height="2.299999999999996" fill="#c9462f"/>
<rect x="242.8" y="50.4" width="20.79999999999999" height="2.300000000000003" fill="#cf5036"/>
<rect x="242.8" y="52.1" width="20.79999999999999" height="2.299999999999996" fill="#c7432f"/>
<rect x="242.8" y="53.8" width="20.79999999999999" height="2.300000000000003" fill="#d25639"/>
<rect x="242.8" y="55.5" width="20.79999999999999" height="2.300000000000003" fill="#c9462f"/>
<rect x="242.8" y="57.2" width="20.79999999999999" height="2.299999999999996" fill="#cf5036"/>
<rect x="242.8" y="58.9" width="20.79999999999999" height="2.300000000000003" fill="#c7432f"/>
<rect x="242.8" y="60.6" width="20.79999999999999" height="2.299999999999996" fill="#d25639"/>
<rect x="242.8" y="62.3" width="20.79999999999999" height="2.300000000000003" fill="#c9462f"/>
<rect x="242.8" y="64.0" width="20.79999999999999" height="2.300000000000003" fill="#cf5036"/>
<rect x="242.8" y="65.7" width="20.79999999999999" height="2.300000000000003" fill="#c7432f"/>
<rect x="242.8" y="67.4" width="20.79999999999999" height="2.2999999999999887" fill="#d25639"/>
<rect x="242.8" y="69.1" width="20.79999999999999" height="2.300000000000003" fill="#c9462f"/>
<rect x="242.8" y="70.8" width="20.79999999999999" height="2.300000000000003" fill="#cf5036"/>
<rect x="242.8" y="72.5" width="20.79999999999999" height="2.1" fill="#c7432f"/>
<rect x="242.8" y="74" width="20.79999999999999" height="3.6" fill="#f6f0b4"/>
<rect x="242.8" y="77" width="20.79999999999999" height="3.6" fill="#f8f1c0"/>
<rect x="242.8" y="80" width="20.79999999999999" height="6.6" fill="#e0915a"/>
<rect x="242.8" y="86" width="20.79999999999999" height="7.6" fill="#c94231"/>
<rect x="242.8" y="93" width="20.79999999999999" height="3.1" fill="#ecf2e6"/>
<rect x="242.8" y="95.5" width="20.79999999999999" height="3.1" fill="#e9a46c"/>
<rect x="242.8" y="98" width="20.79999999999999" height="3.6" fill="#f8eca2"/>
<rect x="242.8" y="101" width="20.79999999999999" height="9.599999999999994" fill="#c8402f"/>
</g>
<g shape-rendering="crispEdges">
<rect x="263.0" y="34.8" width="20.899999999999977" height="5.8000000000000025" fill="#d4593c"/>
<rect x="263.0" y="40" width="20.899999999999977" height="7.6" fill="#c5402f"/>
<rect x="263.0" y="47" width="20.899999999999977" height="3.6" fill="#e9a267"/>
<rect x="263.0" y="50" width="20.899999999999977" height="2.1" fill="#eeb474"/>
<rect x="263.0" y="51.5" width="20.899999999999977" height="2.300000000000003" fill="#e69658"/>
<rect x="263.0" y="53.2" width="20.899999999999977" height="4.1" fill="#eeb474"/>
<rect x="263.0" y="56.7" width="20.899999999999977" height="5.699999999999994" fill="#e99e64"/>
<rect x="263.0" y="61.8" width="20.899999999999977" height="12.800000000000002" fill="#d86a45"/>
<rect x="263.0" y="74" width="20.899999999999977" height="3.6" fill="#eeeedf"/>
<rect x="263.0" y="77" width="20.899999999999977" height="3.6" fill="#f9f2b8"/>
<rect x="263.0" y="80" width="20.899999999999977" height="4.6" fill="#f8e8a2"/>
<rect x="263.0" y="84" width="20.899999999999977" height="9.6" fill="#f5e09a"/>
<rect x="263.0" y="93" width="20.899999999999977" height="3.1" fill="#416fb8"/>
<rect x="263.0" y="95.5" width="20.899999999999977" height="5.1" fill="#b9d1e8"/>
<rect x="263.0" y="100" width="20.899999999999977" height="3.1" fill="#4371b9"/>
<rect x="263.0" y="102.5" width="20.899999999999977" height="3.1" fill="#d8e7f0"/>
<rect x="263.0" y="105" width="20.899999999999977" height="5.599999999999994" fill="#dce8f4"/>
</g>
<text x="254.2" y="121.1" font-size="9.2" text-anchor="middle" textLength="19.8" lengthAdjust="spacingAndGlyphs" fill="#231f20">HSPC</text>
<text x="277.0" y="121.1" font-size="9.2" text-anchor="middle" textLength="10.8" lengthAdjust="spacingAndGlyphs" fill="#231f20">Ery</text>
<linearGradient id="cb2" x1="0" y1="0" x2="0" y2="1">
<stop offset="0" stop-color="#4a6fb5"/><stop offset="0.22" stop-color="#9cc1e0"/>
<stop offset="0.38" stop-color="#eef3ec"/><stop offset="0.55" stop-color="#f8e9a2"/>
<stop offset="0.75" stop-color="#f0ad62"/><stop offset="1" stop-color="#c73828"/></linearGradient>
<rect x="298.2" y="45.0" width="5.0" height="51.0" fill="url(#cb2)"/>
<text x="293.8" y="53" font-size="9" text-anchor="middle" textLength="11" lengthAdjust="spacingAndGlyphs" transform="rotate(-90 293.8 53)" fill="#231f20">0.2</text>
<text x="293.8" y="73.3" font-size="9" text-anchor="middle" textLength="11" lengthAdjust="spacingAndGlyphs" transform="rotate(-90 293.8 73.3)" fill="#231f20">0.6</text>
<text x="293.8" y="95.3" font-size="9" text-anchor="middle" transform="rotate(-90 293.8 95.3)" fill="#231f20">1</text>
<text x="312.2" y="73.4" font-size="9" text-anchor="middle" textLength="59.8" lengthAdjust="spacingAndGlyphs" transform="rotate(-90 312.2 73.4)" fill="#231f20">CpG methylation</text>
<text x="336.9" y="29.7" font-size="9" text-anchor="middle" textLength="18.8" lengthAdjust="spacingAndGlyphs" fill="#231f20">LOSs</text>
<g shape-rendering="crispEdges">
<rect x="316.2" y="34.2" width="21.200000000000024" height="2.799999999999996" fill="#e48650"/>
<rect x="316.2" y="36.4" width="21.200000000000024" height="4.200000000000001" fill="#d65c3c"/>
<rect x="316.2" y="40" width="21.200000000000024" height="3.6" fill="#cf4c34"/>
<rect x="316.2" y="43" width="21.200000000000024" height="5.1" fill="#f8e4a0"/>
<rect x="316.2" y="47.5" width="21.200000000000024" height="3.1" fill="#e4eef0"/>
<rect x="316.2" y="50" width="21.200000000000024" height="3.6" fill="#a8c8e4"/>
<rect x="316.2" y="53" width="21.200000000000024" height="3.1" fill="#4a70b8"/>
<rect x="316.2" y="55.5" width="21.200000000000024" height="5.1" fill="#c8dfef"/>
<rect x="316.2" y="60" width="21.200000000000024" height="2.1" fill="#f5eab0"/>
<rect x="316.2" y="61.5" width="21.200000000000024" height="9.800000000000002" fill="#4c72b8"/>
<rect x="316.2" y="70.7" width="21.200000000000024" height="1.8999999999999972" fill="#b8d4ec"/>
<rect x="316.2" y="72" width="21.200000000000024" height="29.199999999999996" fill="#4e73ba"/>
<rect x="316.2" y="100.6" width="21.200000000000024" height="3.0000000000000058" fill="#5a80c0"/>
<rect x="316.2" y="103" width="21.200000000000024" height="6.1" fill="#4e73ba"/>
<rect x="316.2" y="108.5" width="21.200000000000024" height="2.299999999999997" fill="#5c80c0"/>
</g>
<g shape-rendering="crispEdges">
<rect x="336.8" y="34.2" width="20.30000000000001" height="2.799999999999996" fill="#e48650"/>
<rect x="336.8" y="36.4" width="20.30000000000001" height="4.200000000000001" fill="#f8e2a0"/>
<rect x="336.8" y="40" width="20.30000000000001" height="1.6" fill="#eeb070"/>
<rect x="336.8" y="41" width="20.30000000000001" height="3.1" fill="#eef0e0"/>
<rect x="336.8" y="43.5" width="20.30000000000001" height="4.1" fill="#f5dc98"/>
<rect x="336.8" y="47" width="20.30000000000001" height="3.6" fill="#e8f0ec"/>
<rect x="336.8" y="50" width="20.30000000000001" height="6.6" fill="#f9eeb0"/>
<rect x="336.8" y="56" width="20.30000000000001" height="2.8999999999999972" fill="#d04a30"/>
<rect x="336.8" y="58.3" width="20.30000000000001" height="1.5000000000000058" fill="#eda058"/>
<rect x="336.8" y="59.2" width="20.30000000000001" height="2.3999999999999972" fill="#4a70b8"/>
<rect x="336.8" y="61" width="20.30000000000001" height="5.6" fill="#cde0ee"/>
<rect x="336.8" y="66" width="20.30000000000001" height="5.500000000000005" fill="#f8f4d0"/>
<rect x="336.8" y="70.9" width="20.30000000000001" height="30.29999999999999" fill="#5a7cc0"/>
<rect x="336.8" y="100.6" width="20.30000000000001" height="4.500000000000005" fill="#a0c0e0"/>
<rect x="336.8" y="104.5" width="20.30000000000001" height="6.299999999999997" fill="#88acd8"/>
</g>
<text x="325.5" y="121.1" font-size="9.2" text-anchor="middle" textLength="19.8" lengthAdjust="spacingAndGlyphs" fill="#231f20">HSPC</text>
<text x="348.0" y="121.1" font-size="9.2" text-anchor="middle" textLength="10.8" lengthAdjust="spacingAndGlyphs" fill="#231f20">Ery</text>
<clipPath id="cc"><rect x="412.5" y="27.0" width="90.0" height="106.0"/></clipPath>
<path d="M412.50,126.91 L413.00,124.26 L413.50,126.62 L414.00,123.29 L414.50,124.99 L415.00,127.82 L415.50,121.34 L416.00,123.37 L416.50,123.33 L417.00,122.22 L417.50,122.91 L418.00,127.65 L418.50,125.04 L419.00,122.47 L419.50,126.97 L420.00,127.14 L420.50,125.29 L421.00,125.91 L421.50,123.58 L422.00,122.96 L422.50,123.44 L423.00,122.38 L423.50,123.59 L424.00,124.57 L424.50,127.15 L425.00,123.18 L425.50,122.64 L426.00,125.53 L426.50,125.30 L427.00,122.23 L427.50,127.69 L428.00,123.79 L428.50,125.04 L429.00,124.74 L429.50,126.59 L430.00,124.70 L430.50,126.82 L431.00,125.88 L431.50,125.89 L432.00,126.11 L432.50,127.47 L433.00,123.46 L433.50,123.99 L434.00,122.77 L434.50,125.55 L435.00,122.42 L435.50,122.86 L436.00,125.72 L436.50,122.90 L437.00,127.45 L437.50,123.48 L438.00,119.92 L438.50,126.39 L439.00,125.48 L439.50,127.45 L440.00,122.77 L440.50,123.64 L441.00,126.42 L441.50,124.88 L442.00,127.68 L442.50,123.11 L443.00,122.87 L443.50,125.44 L444.00,123.05 L444.50,124.83 L445.00,120.31 L445.50,123.98 L446.00,127.71 L446.50,124.21 L447.00,124.55 L447.50,125.55 L448.00,122.74 L448.50,127.31 L449.00,127.70 L449.50,127.05 L450.00,124.15 L450.50,124.80 L451.00,125.06 L451.50,126.90 L452.00,125.71 L452.50,121.54 L453.00,123.83 L453.50,123.48 L454.00,127.80 L454.50,127.48 L455.00,126.85 L455.50,126.41 L456.00,122.87 L456.50,125.65 L457.00,122.76 L457.50,125.00 L458.00,122.50 L458.50,124.45 L459.00,123.70 L459.50,126.09 L460.00,124.88 L460.50,127.48 L461.00,122.33 L461.50,126.05 L462.00,124.03 L462.50,127.43 L463.00,123.56 L463.50,121.13 L464.00,124.21 L464.50,124.92 L465.00,125.58 L465.50,127.57 L466.00,126.45 L466.50,123.23 L467.00,125.27 L467.50,125.67 L468.00,124.28 L468.50,127.36 L469.00,125.07 L469.50,122.82 L470.00,124.31 L470.50,124.07 L471.00,123.90 L471.50,126.46 L472.00,125.66 L472.50,123.19 L473.00,119.06 L473.50,126.08 L474.00,125.64 L474.50,121.52 L475.00,126.13 L475.50,123.66 L476.00,127.23 L476.50,123.87 L477.00,125.95 L477.50,124.00 L478.00,122.48 L478.50,126.41 L479.00,126.98 L479.50,126.71 L480.00,126.28 L480.50,122.54 L481.00,125.38 L481.50,126.26 L482.00,125.67 L482.50,126.78 L483.00,127.65 L483.50,122.57 L484.00,127.73 L484.50,127.62 L485.00,123.89 L485.50,127.80 L486.00,127.31 L486.50,125.28 L487.00,125.75 L487.50,123.38 L488.00,121.65 L488.50,126.78 L489.00,124.73 L489.50,123.32 L490.00,122.63 L490.50,127.74 L491.00,127.39 L491.50,123.63 L492.00,123.58 L492.50,123.24 L493.00,124.34 L493.50,123.33 L494.00,126.32 L494.50,126.16 L495.00,119.62 L495.50,127.46 L496.00,124.02 L496.50,123.12 L497.00,127.63 L497.50,124.00 L498.00,126.95 L498.50,122.59 L499.00,125.54 L499.50,123.74 L500.00,127.40 L500.50,123.43 L501.00,125.85 L501.50,124.30 L502.00,123.84 L502.50,126.93" stroke="#6fb2e6" stroke-width="1.2" fill="none" clip-path="url(#cc)"/>
<path d="M412.50,126.11 L413.00,130.42 L413.50,129.68 L414.00,127.53 L414.50,126.43 L415.00,126.11 L415.50,127.76 L416.00,127.37 L416.50,129.83 L417.00,126.47 L417.50,129.10 L418.00,126.61 L418.50,126.20 L419.00,126.10 L419.50,127.31 L420.00,129.34 L420.50,129.09 L421.00,126.13 L421.50,129.88 L422.00,127.45 L422.50,130.30 L423.00,130.38 L423.50,128.20 L424.00,128.64 L424.50,126.30 L425.00,128.81 L425.50,129.16 L426.00,128.03 L426.50,127.43 L427.00,130.12 L427.50,128.89 L428.00,128.67 L428.50,126.14 L429.00,128.68 L429.50,126.40 L430.00,128.01 L430.50,129.02 L431.00,132.21 L431.50,128.06 L432.00,127.55 L432.50,129.89 L433.00,128.64 L433.50,126.28 L434.00,126.63 L434.50,128.11 L435.00,125.96 L435.50,128.35 L436.00,127.56 L436.50,126.91 L437.00,127.72 L437.50,130.45 L438.00,127.60 L438.50,129.74 L439.00,128.53 L439.50,130.34 L440.00,128.91 L440.50,129.53 L441.00,126.54 L441.50,129.26 L442.00,128.36 L442.50,128.94 L443.00,126.26 L443.50,130.35 L444.00,129.18 L444.50,129.59 L445.00,128.77 L445.50,127.22 L446.00,129.38 L446.50,129.30 L447.00,127.46 L447.50,126.43 L448.00,130.27 L448.50,130.31 L449.00,130.85 L449.50,129.56 L450.00,127.62 L450.50,126.63 L451.00,128.07 L451.50,128.95 L452.00,129.32 L452.50,128.78 L453.00,129.72 L453.50,126.41 L454.00,128.86 L454.50,128.17 L455.00,129.25 L455.50,126.66 L456.00,127.32 L456.50,126.04 L457.00,128.66 L457.50,127.02 L458.00,127.51 L458.50,132.35 L459.00,128.78 L459.50,128.14 L460.00,129.83 L460.50,126.54 L461.00,128.10 L461.50,130.43 L462.00,127.36 L462.50,126.72 L463.00,130.22 L463.50,128.20 L464.00,126.34 L464.50,127.66 L465.00,129.00 L465.50,126.19 L466.00,126.37 L466.50,127.52 L467.00,129.23 L467.50,130.27 L468.00,131.72 L468.50,129.07 L469.00,128.48 L469.50,129.72 L470.00,128.62 L470.50,126.78 L471.00,128.03 L471.50,126.11 L472.00,130.34 L472.50,128.16 L473.00,129.94 L473.50,129.10 L474.00,130.31 L474.50,126.75 L475.00,128.31 L475.50,128.20 L476.00,128.96 L476.50,126.31 L477.00,128.41 L477.50,130.31 L478.00,126.80 L478.50,128.87 L479.00,130.48 L479.50,129.82 L480.00,126.94 L480.50,128.35 L481.00,130.19 L481.50,126.29 L482.00,129.13 L482.50,127.35 L483.00,128.98 L483.50,127.96 L484.00,128.66 L484.50,127.96 L485.00,129.32 L485.50,126.92 L486.00,128.09 L486.50,127.89 L487.00,129.42 L487.50,128.90 L488.00,128.81 L488.50,127.85 L489.00,128.61 L489.50,129.70 L490.00,127.74 L490.50,126.95 L491.00,127.39 L491.50,129.46 L492.00,128.81 L492.50,131.89 L493.00,128.50 L493.50,129.80 L494.00,128.19 L494.50,130.07 L495.00,128.33 L495.50,130.14 L496.00,129.36 L496.50,128.45 L497.00,127.87 L497.50,129.70 L498.00,130.30 L498.50,130.21 L499.00,128.04 L499.50,127.64 L500.00,128.55 L500.50,129.46 L501.00,131.21 L501.50,128.95 L502.00,129.86 L502.50,126.26" stroke="#a8112e" stroke-width="1.2" fill="none" clip-path="url(#cc)"/>
<path d="M412.50,93.50 L413.00,86.96 L413.50,98.64 L414.00,101.65 L414.50,98.43 L415.00,94.04 L415.50,95.71 L416.00,97.73 L416.50,91.45 L417.00,96.95 L417.50,96.62 L418.00,99.27 L418.50,99.21 L419.00,96.21 L419.50,102.11 L420.00,95.63 L420.50,98.40 L421.00,101.12 L421.50,99.67 L422.00,96.63 L422.50,102.59 L423.00,97.11 L423.50,99.59 L424.00,100.03 L424.50,95.01 L425.00,92.47 L425.50,95.74 L426.00,100.54 L426.50,93.57 L427.00,93.29 L427.50,87.01 L428.00,102.74 L428.50,95.94 L429.00,94.73 L429.50,97.46 L430.00,95.31 L430.50,93.00 L431.00,94.77 L431.50,100.97 L432.00,93.24 L432.50,101.92 L433.00,101.25 L433.50,94.65 L434.00,98.66 L434.50,98.43 L435.00,93.84 L435.50,93.81 L436.00,98.75 L436.50,94.48 L437.00,100.54 L437.50,98.79 L438.00,97.27 L438.50,87.43 L439.00,99.58 L439.50,94.42 L440.00,86.51 L440.50,97.43 L441.00,97.24 L441.50,98.38 L442.00,102.94 L442.50,94.93 L443.00,94.09 L443.50,96.00 L444.00,98.38 L444.50,102.15 L445.00,98.08 L445.50,97.49 L446.00,97.67 L446.50,85.58 L447.00,94.41 L447.50,95.51 L448.00,97.60 L448.50,101.01 L449.00,101.84 L449.50,102.25 L450.00,102.40 L450.50,102.81 L451.00,106.03 L451.50,108.51 L452.00,107.20 L452.50,98.66 L453.00,108.51 L453.50,104.60 L454.00,105.52 L454.50,104.12 L455.00,89.10 L455.50,94.12 L456.00,83.89 L456.50,70.29 L457.00,56.54 L457.50,46.42 L458.00,52.86 L458.50,54.18 L459.00,62.41 L459.50,78.15 L460.00,83.02 L460.50,89.07 L461.00,91.83 L461.50,97.63 L462.00,95.85 L462.50,103.83 L463.00,102.37 L463.50,99.48 L464.00,99.77 L464.50,97.01 L465.00,93.85 L465.50,94.05 L466.00,92.97 L466.50,99.11 L467.00,88.60 L467.50,95.56 L468.00,97.50 L468.50,93.35 L469.00,98.60 L469.50,96.94 L470.00,100.46 L470.50,96.11 L471.00,101.21 L471.50,97.08 L472.00,97.49 L472.50,98.60 L473.00,93.57 L473.50,96.21 L474.00,102.34 L474.50,98.97 L475.00,96.55 L475.50,92.99 L476.00,95.72 L476.50,100.19 L477.00,89.95 L477.50,97.71 L478.00,95.47 L478.50,101.49 L479.00,99.81 L479.50,95.29 L480.00,97.54 L480.50,99.43 L481.00,100.23 L481.50,97.93 L482.00,94.88 L482.50,85.22 L483.00,97.14 L483.50,101.42 L484.00,93.28 L484.50,101.83 L485.00,84.96 L485.50,94.25 L486.00,95.61 L486.50,96.51 L487.00,100.20 L487.50,92.81 L488.00,94.01 L488.50,95.45 L489.00,102.26 L489.50,101.18 L490.00,102.36 L490.50,101.53 L491.00,102.98 L491.50,95.20 L492.00,97.12 L492.50,96.46 L493.00,94.82 L493.50,97.00 L494.00,93.72 L494.50,88.72 L495.00,96.11 L495.50,94.45 L496.00,94.74 L496.50,101.52 L497.00,97.01 L497.50,96.69 L498.00,97.79 L498.50,97.63 L499.00,96.90 L499.50,94.78 L500.00,100.26 L500.50,94.55 L501.00,93.23 L501.50,101.68 L502.00,99.32 L502.50,97.85" stroke="#434b5e" stroke-width="1.05" fill="none" clip-path="url(#cc)"/>
<line x1="411.9" y1="27.0" x2="503.1" y2="27.0" stroke="#231f20" stroke-width="1.2"/>
<line x1="502.5" y1="27.0" x2="502.5" y2="133.0" stroke="#231f20" stroke-width="1.2"/>
<line x1="412.5" y1="27.0" x2="412.5" y2="133.7" stroke="#231f20" stroke-width="1.4"/>
<line x1="411.8" y1="133.0" x2="503.1" y2="133.0" stroke="#231f20" stroke-width="1.6"/>
<line x1="408.5" y1="26.75" x2="412.5" y2="26.75" stroke="#231f20" stroke-width="1"/>
<text x="406.3" y="29.75" font-size="9" text-anchor="end" textLength="15" lengthAdjust="spacingAndGlyphs" fill="#231f20">0.08</text>
<line x1="408.5" y1="78.0" x2="412.5" y2="78.0" stroke="#231f20" stroke-width="1"/>
<text x="406.3" y="81.0" font-size="9" text-anchor="end" textLength="15" lengthAdjust="spacingAndGlyphs" fill="#231f20">0.04</text>
<line x1="408.5" y1="129.25" x2="412.5" y2="129.25" stroke="#231f20" stroke-width="1"/>
<text x="406.3" y="132.25" font-size="9" text-anchor="end" textLength="15" lengthAdjust="spacingAndGlyphs" fill="#231f20">0.00</text>
<line x1="412.5" y1="133.0" x2="412.5" y2="136.0" stroke="#231f20" stroke-width="1"/>
<line x1="457.5" y1="133.0" x2="457.5" y2="136.0" stroke="#231f20" stroke-width="1"/>
<line x1="502.5" y1="133.0" x2="502.5" y2="136.0" stroke="#231f20" stroke-width="1"/>
<text x="412" y="146.2" font-size="9" text-anchor="middle" textLength="14" lengthAdjust="spacingAndGlyphs" fill="#231f20">-1.0</text>
<text x="457.5" y="146.2" font-size="9" text-anchor="middle" fill="#231f20">0</text>
<text x="492.5" y="146.2" font-size="9" textLength="21.3" lengthAdjust="spacingAndGlyphs" fill="#231f20">1.0Mb</text>
<text x="385.5" y="79.9" font-size="9.6" text-anchor="middle" textLength="73.2" lengthAdjust="spacingAndGlyphs" transform="rotate(-90 385.5 79.9)" fill="#231f20">CTCF occupancy signal</text>
<line x1="463" y1="35.3" x2="475" y2="35.3" stroke="#c2284a" stroke-width="1.0"/>
<text x="478" y="38.0" font-size="9.2" textLength="20.5" lengthAdjust="spacingAndGlyphs" fill="#231f20">GOSs</text>
<line x1="463" y1="44.0" x2="475" y2="44.0" stroke="#7cbcec" stroke-width="1.0"/>
<text x="478" y="46.7" font-size="9.2" textLength="20.5" lengthAdjust="spacingAndGlyphs" fill="#231f20">LOSs</text>
<line x1="463" y1="52.4" x2="475" y2="52.4" stroke="#3a4358" stroke-width="1.0"/>
<text x="478" y="55.1" font-size="9.2" textLength="20.5" lengthAdjust="spacingAndGlyphs" fill="#231f20">CONs</text>
<rect x="268.7" y="174.5" width="10.5" height="9.8" fill="#fff" stroke="#3a3a3a" stroke-width="1"/>
<rect x="268.7" y="186.9" width="10.5" height="10.2" fill="#6aaae2" stroke="#3a3a3a" stroke-width="1"/>
<text x="282" y="182.1" font-size="8.8" textLength="40" lengthAdjust="spacingAndGlyphs" fill="#231f20">non-anchor</text>
<text x="282" y="194.2" font-size="8.8" textLength="24" lengthAdjust="spacingAndGlyphs" fill="#231f20">anchor</text>
<circle cx="247.9" cy="235" r="30.7" fill="#fff" stroke="#231f20" stroke-width="1"/>
<path d="M247.9,235 L278.6,235 A30.7,30.7 0 1 1 223.06,216.95 Z" fill="#6aaae2" stroke="#231f20" stroke-width="1"/>
<text x="250.9" y="221.3" font-size="8.6" text-anchor="middle" textLength="14.3" lengthAdjust="spacingAndGlyphs" fill="#231f20">40%</text>
<text x="237.3" y="246.3" font-size="8.6" text-anchor="middle" textLength="14.5" lengthAdjust="spacingAndGlyphs" fill="#231f20">60%</text>
<text x="247.9" y="276.3" font-size="9" text-anchor="middle" textLength="20.8" lengthAdjust="spacingAndGlyphs" fill="#231f20">GOSs</text>
<circle cx="318.0" cy="235" r="30.7" fill="#fff" stroke="#231f20" stroke-width="1"/>
<path d="M318.0,235 L348.7,235 A30.7,30.7 0 0 1 323.75,265.16 Z" fill="#6aaae2" stroke="#231f20" stroke-width="1"/>
<text x="312.8" y="223.8" font-size="8.6" text-anchor="middle" textLength="14.3" lengthAdjust="spacingAndGlyphs" fill="#231f20">78%</text>
<text x="333.0" y="250.0" font-size="8.6" text-anchor="middle" textLength="14.5" lengthAdjust="spacingAndGlyphs" fill="#231f20">22%</text>
<text x="318.0" y="276.3" font-size="9" text-anchor="middle" textLength="20.8" lengthAdjust="spacingAndGlyphs" fill="#231f20">CONs</text>
<line x1="405.2" y1="174" x2="405.2" y2="281.9" stroke="#231f20" stroke-width="1.4"/>
<line x1="404.5" y1="281.2" x2="469.5" y2="281.2" stroke="#231f20" stroke-width="1.4"/>
<text x="402.3" y="195.6" font-size="9.2" text-anchor="end" textLength="9" lengthAdjust="spacingAndGlyphs" fill="#231f20">90</text>
<text x="402.3" y="223.5" font-size="9.2" text-anchor="end" textLength="9" lengthAdjust="spacingAndGlyphs" fill="#231f20">60</text>
<text x="402.3" y="250.79999999999998" font-size="9.2" text-anchor="end" textLength="9" lengthAdjust="spacingAndGlyphs" fill="#231f20">30</text>
<text x="402.3" y="278.2" font-size="9.2" text-anchor="end" fill="#231f20">0</text>
<text x="388.6" y="227.2" font-size="9" text-anchor="middle" textLength="22" lengthAdjust="spacingAndGlyphs" transform="rotate(-90 388.6 227.2)" fill="#231f20">Loop #</text>
<line x1="423" y1="232.4" x2="423" y2="255.3" stroke="#474747" stroke-width="1.1"/>
<line x1="423" y1="270.8" x2="423" y2="276.2" stroke="#474747" stroke-width="1.1"/>
<rect x="412" y="255.3" width="22" height="15.5" fill="#c6c6c6"/>
<line x1="412" y1="264.2" x2="434" y2="264.2" stroke="#ffffff" stroke-width="0.6"/>
<line x1="417" y1="265.4" x2="428.3" y2="265.4" stroke="#000" stroke-width="1.6"/>
<line x1="452.4" y1="183.8" x2="452.4" y2="222.8" stroke="#474747" stroke-width="1.1"/>
<line x1="452.4" y1="255" x2="452.4" y2="274.3" stroke="#474747" stroke-width="1.1"/>
<path d="M441.2,222.8 L462.9,222.8 L462.9,238.3 L457.6,242.2 L462.9,246.1 L462.9,255 L441.2,255 L441.2,246.1 L447.1,242.2 L441.2,238.3 Z" fill="#a50f2d"/>
<line x1="447" y1="242.2" x2="457.8" y2="242.2" stroke="#000" stroke-width="1.6"/>
<line x1="423" y1="281.2" x2="423" y2="284.2" stroke="#231f20" stroke-width="1"/>
<line x1="452.4" y1="281.2" x2="452.4" y2="284.2" stroke="#231f20" stroke-width="1"/>
<text x="422.9" y="294.4" font-size="9" text-anchor="middle" textLength="21.5" lengthAdjust="spacingAndGlyphs" fill="#231f20">CONs</text>
<text x="452.5" y="294.4" font-size="9" text-anchor="middle" textLength="20" lengthAdjust="spacingAndGlyphs" fill="#231f20">GOSs</text>
</svg></body></html>
